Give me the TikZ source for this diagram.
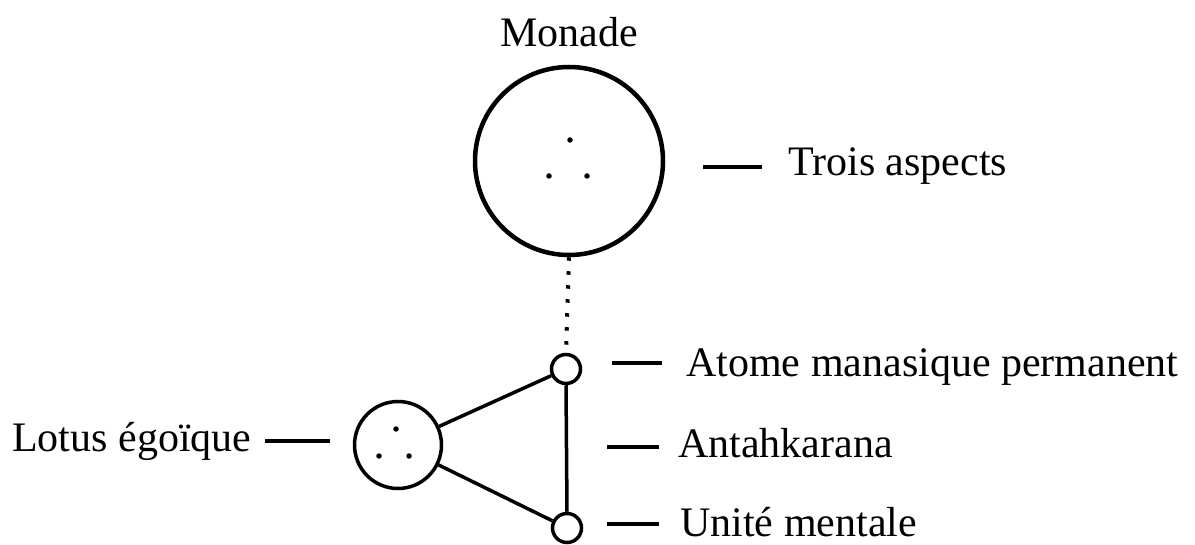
\documentclass[tikz,border=0pt]{standalone}
\usepackage{fontspec}
\setmainfont{Liberation Serif}
\begin{document}
\begin{tikzpicture}[x=1pt,y=-1pt,
  lbl/.style={inner sep=0pt,anchor=base west,font=\fontsize{42}{50}\selectfont},
  ring/.style={circle,draw,inner sep=0pt,line width=3.5pt},
  dotpt/.style={circle,fill,inner sep=0pt,minimum size=5.5pt},
  tick/.style={line width=3.5pt},
  link/.style={line width=3.5pt}]
\useasboundingbox (0,0) rectangle (1195,545);
% main circles
\node[ring,line width=4.5pt,minimum size=188pt] (mon) at (569,161) {};
\node[ring,minimum size=29pt] (atom) at (566,369) {};
\node[ring,minimum size=29pt] (unit) at (567,528) {};
\node[ring,minimum size=87pt] (lotus) at (398,445) {};
% dots
\node[dotpt] (m1) at (570,140) {};
\node[dotpt] (m2) at (549,176) {};
\node[dotpt] (m3) at (587,176) {};
\node[dotpt] (l1) at (396,429) {};
\node[dotpt] (l2) at (379,456) {};
\node[dotpt] (l3) at (409,456) {};
% labels
\node[lbl,anchor=base] (tmon) at (569,47) {Monade};
\node[lbl] (ttrois) at (788,176) {Trois aspects};
\node[lbl] (tlotus) at (12,452) {Lotus égoïque};
\node[lbl] (tatom) at (686,377) {Atome manasique permanent};
\node[lbl] (tantah) at (678,457) {Antahkarana};
\node[lbl] (tunit) at (680,536) {Unité mentale};
% tick marks
\coordinate (a1) at (703,167); \coordinate (a2) at (762,167);
\coordinate (b1) at (265,441); \coordinate (b2) at (330,441);
\coordinate (c1) at (612,363); \coordinate (c2) at (662,363);
\coordinate (d1) at (607,447); \coordinate (d2) at (659,447);
\coordinate (e1) at (607,524); \coordinate (e2) at (659,524);
\draw[tick] (a1) -- (a2);
\draw[tick] (b1) -- (b2);
\draw[tick] (c1) -- (c2);
\draw[tick] (d1) -- (d2);
\draw[tick] (e1) -- (e2);
% connectors
\draw[line width=4pt,dash pattern=on 3.5pt off 10.5pt] (mon.south) -- (atom.north);
\draw[link] (lotus) -- (atom);
\draw[link] (lotus) -- (unit);
\draw[link] (atom.south) -- (unit.north);
\end{tikzpicture}
\end{document}
